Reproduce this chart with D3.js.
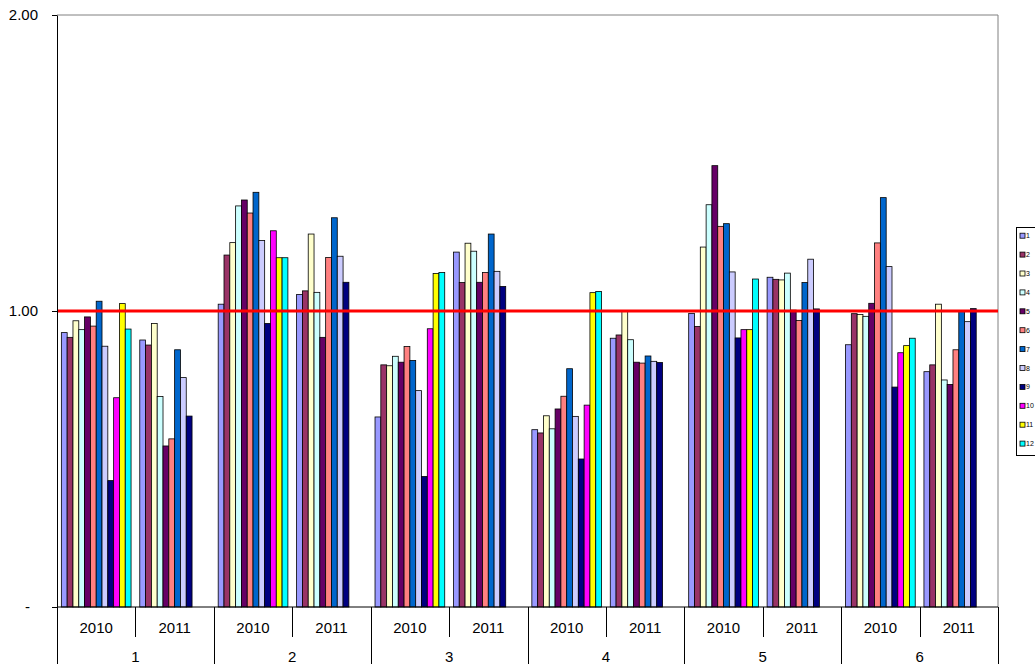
<!DOCTYPE html>
<html>
<head>
<meta charset="utf-8">
<script src="https://cdn.jsdelivr.net/npm/d3@7"></script>
<style>
  body { margin: 0; background: #fff; }
  svg { display: block; font-family: 'Liberation Sans', Arial, sans-serif; }
</style>
</head>
<body>
<div id="graph"></div>
<script>
// categories
const groups = ['1', '2', '3', '4', '5', '6']
const years = ['2010', '2011']
const seriesNames = ['1', '2', '3', '4', '5', '6', '7', '8', '9', '10', '11', '12']
const seriesColors = ['#9999FF', '#993366', '#FFFFCC', '#CCFFFF', '#660066', '#FF8080',
  '#0066CC', '#CCCCFF', '#000080', '#FF00FF', '#FFFF00', '#00FFFF']
const yTicks = [0, 1, 2]
const refLine = 1

// values per group, one row per group, one entry per series
const values2010 = [
  [0.927, 0.911, 0.967, 0.937, 0.980, 0.949, 1.033, 0.881, 0.427, 0.707, 1.025, 0.939],
  [1.023, 1.189, 1.231, 1.355, 1.375, 1.331, 1.401, 1.238, 0.958, 1.271, 1.180, 1.180],
  [0.642, 0.818, 0.815, 0.847, 0.827, 0.880, 0.833, 0.731, 0.441, 0.940, 1.127, 1.130],
  [0.599, 0.588, 0.646, 0.602, 0.669, 0.712, 0.805, 0.644, 0.500, 0.682, 1.062, 1.066],
  [0.992, 0.948, 1.216, 1.359, 1.491, 1.286, 1.295, 1.132, 0.909, 0.937, 0.937, 1.108],
  [0.886, 0.991, 0.988, 0.982, 1.026, 1.230, 1.383, 1.150, 0.743, 0.859, 0.883, 0.908]
]
// 2011 has no values for series 10-12
const values2011 = [
  [0.902, 0.885, 0.958, 0.711, 0.544, 0.568, 0.869, 0.775, 0.645],
  [1.056, 1.068, 1.260, 1.063, 0.911, 1.181, 1.315, 1.185, 1.097],
  [1.199, 1.096, 1.229, 1.202, 1.097, 1.130, 1.260, 1.134, 1.083],
  [0.908, 0.919, 0.999, 0.903, 0.827, 0.824, 0.848, 0.830, 0.826],
  [1.114, 1.107, 1.105, 1.128, 1.003, 0.968, 1.096, 1.175, 1.007],
  [0.795, 0.818, 1.023, 0.767, 0.752, 0.869, 1.000, 0.964, 1.008]
]

const totalWidth = 1035
const totalHeight = 664
const margins = { top: 15, left: 57, right: 37, bottom: 57 }
const width = totalWidth - margins.left - margins.right
const height = totalHeight - margins.top - margins.bottom

const svg = d3.select('#graph').append('svg')
  .attr('width', totalWidth)
  .attr('height', totalHeight)

const g = svg.append('g')
  .attr('transform', `translate(${margins.left}, ${margins.top})`)

// scales
const x0 = d3.scaleBand().domain(groups).range([0, width])
const x1 = d3.scaleBand().domain(years).range([0, x0.bandwidth()])
// Excel gap width of 150%: half of it on each side of the cluster
const x2 = d3.scaleBand().domain(seriesNames).range([0, x1.bandwidth()])
  .paddingInner(0).paddingOuter(0.75)
const y = d3.scaleLinear().domain([0, 2]).range([height, 0])
const color = d3.scaleOrdinal().domain(seriesNames).range(seriesColors)

// plot border (top and right)
g.append('path')
  .attr('d', `M0,${y(2)}H${width}V${height}`)
  .attr('fill', 'none')
  .attr('stroke', '#808080')
  .attr('stroke-width', 1)

// flatten to rows for drawing
const rows = []
groups.forEach((grp, gi) => {
  years.forEach(yr => {
    const vals = yr === '2010' ? values2010[gi] : values2011[gi]
    vals.forEach((v, si) => {
      rows.push({ group: grp, year: yr, series: seriesNames[si], value: v })
    })
  })
})

g.append('g').selectAll('rect')
  .data(rows)
  .join('rect')
  .attr('x', d => x0(d.group) + x1(d.year) + x2(d.series))
  .attr('y', d => y(d.value))
  .attr('width', x2.bandwidth())
  .attr('height', d => y(0) - y(d.value))
  .attr('fill', d => color(d.series))
  .attr('stroke', '#000')
  .attr('stroke-width', 0.8)

// reference line at 1.00
g.append('line')
  .attr('x1', 0).attr('x2', width)
  .attr('y1', y(refLine)).attr('y2', y(refLine))
  .attr('stroke', '#FF0000')
  .attr('stroke-width', 3)

// y axis
const yAxis = g.append('g')
  .call(d3.axisLeft(y).tickValues(yTicks).tickSize(5).tickSizeOuter(0)
    .tickFormat(d => d === 0 ? '-' : d3.format('.2f')(d)))
yAxis.select('.domain').attr('stroke', '#000')
yAxis.selectAll('text')
  .attr('font-size', 15)
  .attr('font-family', "'Liberation Sans', Arial, sans-serif")
  .attr('fill', '#000')
  .attr('x', d => d === 0 ? -27 : -19)

// x axis: baseline, dividers and two rows of labels
const xAxis = g.append('g').attr('transform', `translate(0, ${height})`)
xAxis.append('line')
  .attr('x1', 0).attr('x2', width)
  .attr('stroke', '#000')

const groupEdges = groups.map(d => x0(d)).concat([width])
xAxis.selectAll('.group-tick')
  .data(groupEdges)
  .join('line')
  .attr('class', 'group-tick')
  .attr('x1', d => Math.round(d) + 0.5).attr('x2', d => Math.round(d) + 0.5)
  .attr('y1', 0).attr('y2', margins.bottom)
  .attr('stroke', '#000')

xAxis.selectAll('.year-tick')
  .data(groups)
  .join('line')
  .attr('class', 'year-tick')
  .attr('x1', d => Math.round(x0(d) + x1('2011')) + 0.5)
  .attr('x2', d => Math.round(x0(d) + x1('2011')) + 0.5)
  .attr('y1', 0).attr('y2', 30)
  .attr('stroke', '#000')

const yearLabels = []
groups.forEach(grp => years.forEach(yr => yearLabels.push({ group: grp, year: yr })))
xAxis.selectAll('.year-label')
  .data(yearLabels)
  .join('text')
  .attr('class', 'year-label')
  .attr('x', d => x0(d.group) + x1(d.year) + x1.bandwidth() / 2)
  .attr('y', 26)
  .attr('text-anchor', 'middle')
  .attr('font-size', 15)
  .text(d => d.year)

xAxis.selectAll('.group-label')
  .data(groups)
  .join('text')
  .attr('class', 'group-label')
  .attr('x', d => x0(d) + x0.bandwidth() / 2)
  .attr('y', 55)
  .attr('text-anchor', 'middle')
  .attr('font-size', 15)
  .text(d => d)

// legend
const legend = svg.append('g').attr('transform', 'translate(1016, 227)')
legend.append('rect')
  .attr('x', 0.5).attr('y', 0.5)
  .attr('width', 40).attr('height', 228)
  .attr('fill', '#fff')
  .attr('stroke', '#000')
  .attr('stroke-width', 1)

const items = legend.selectAll('.item')
  .data(seriesNames)
  .join('g')
  .attr('class', 'item')
  .attr('transform', (d, i) => `translate(0, ${8.7 + i * 18.9})`)
items.append('rect')
  .attr('x', 4).attr('y', -2.5)
  .attr('width', 5).attr('height', 5)
  .attr('fill', d => color(d))
  .attr('stroke', '#000')
  .attr('stroke-width', 0.8)
items.append('text')
  .attr('x', 10).attr('y', 2.5)
  .attr('font-size', 7)
  .text(d => d)
</script>
</body>
</html>
